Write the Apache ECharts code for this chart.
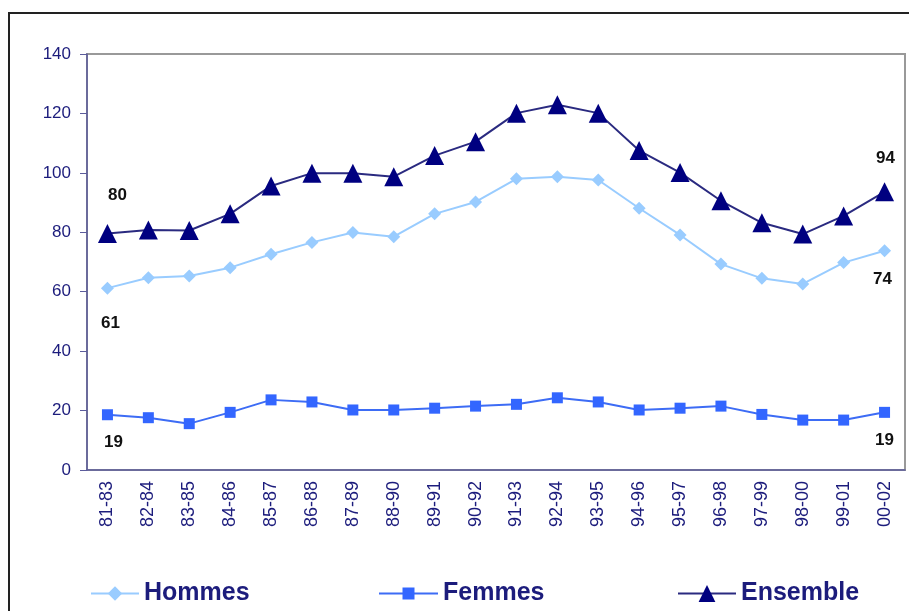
<!DOCTYPE html>
<html>
<head>
<meta charset="utf-8">
<script src="https://cdn.jsdelivr.net/npm/echarts@6/dist/echarts.min.js"></script>
<style>
  html, body { margin: 0; padding: 0; background: #fff; }
  #chart { width: 909px; height: 611px; }
</style>
</head>
<body>
<div id="chart"></div>
<script>
// Periods (3-year windows)
const periods = ['81-83', '82-84', '83-85', '84-86', '85-87', '86-88', '87-89', '88-90', '89-91', '90-92',
  '91-93', '92-94', '93-95', '94-96', '95-97', '96-98', '97-99', '98-00', '99-01', '00-02'];

// Series values
const hommes = [61.2, 64.7, 65.3, 68.1, 72.6, 76.6, 79.9, 78.5, 86.2, 90.2,
  98.0, 98.7, 97.6, 88.1, 79.1, 69.3, 64.5, 62.6, 69.8, 73.8];
const femmes = [18.6, 17.6, 15.6, 19.4, 23.6, 22.9, 20.2, 20.2, 20.8, 21.5,
  22.1, 24.3, 22.9, 20.2, 20.8, 21.5, 18.7, 16.8, 16.8, 19.4];
const ensemble = [79.6, 80.8, 80.6, 86.2, 95.6, 99.9, 99.9, 98.7, 105.8, 110.5,
  120.1, 122.9, 120.1, 107.5, 100.1, 90.6, 83.2, 79.4, 85.5, 93.6];

const yTicks = [0, 20, 40, 60, 80, 100, 120, 140];

const navy = '#1c1c7c';

// show a value label only on first and last point
const withEndLabels = (arr, pos, firstOffset, lastOffset) => arr.map((v, i) => {
  if (i === 0 || i === arr.length - 1) {
    return {
      value: v,
      label: {
        show: true,
        position: pos,
        distance: 14,
        offset: i === 0 ? firstOffset : lastOffset,
        formatter: (p) => Math.round(p.value),
        color: '#111',
        fontWeight: 'bold',
        fontSize: 17,
        fontFamily: 'Liberation Sans'
      }
    };
  }
  return v;
});

const chart = echarts.init(document.getElementById('chart'));

const legendText = {
  color: navy,
  fontSize: 25,
  fontWeight: 'bold',
  fontFamily: 'Liberation Sans'
};

const option = {
  animation: false,
  backgroundColor: '#fff',
  graphic: [{
    type: 'rect',
    shape: { x: 9, y: 13, width: 920, height: 620 },
    style: { fill: 'none', stroke: '#222', lineWidth: 2 },
    z: -1
  }],
  grid: {
    left: 87, right: 4, top: 54, bottom: 141,
    show: true, borderColor: '#999', borderWidth: 2, backgroundColor: 'transparent'
  },
  legend: [
    {
      data: ['Hommes'], left: 90, top: 581, padding: 0, itemWidth: 48, itemHeight: 18,
      textStyle: legendText
    },
    {
      data: ['Femmes'], left: 378, top: 581, padding: 0, itemWidth: 59, itemHeight: 15,
      textStyle: legendText
    },
    {
      data: ['Ensemble'], left: 677, top: 581, padding: 0, itemWidth: 58, itemHeight: 21,
      textStyle: legendText
    }
  ],
  xAxis: {
    type: 'category',
    data: periods,
    boundaryGap: true,
    axisLine: { lineStyle: { color: '#5c5c9c', width: 1.5 } },
    axisTick: { length: 6, lineStyle: { color: '#5c5c9c' } },
    axisLabel: {
      rotate: 90,
      interval: 0,
      margin: 11,
      color: navy,
      fontSize: 18,
      fontFamily: 'Liberation Sans'
    }
  },
  yAxis: {
    type: 'value',
    min: yTicks[0],
    max: yTicks[yTicks.length - 1],
    interval: 20,
    splitLine: { show: false },
    axisLine: { show: true, lineStyle: { color: '#5c5c9c', width: 1.5 } },
    axisTick: { show: true, length: 7, lineStyle: { color: '#5c5c9c' } },
    axisLabel: {
      margin: 16,
      color: navy,
      fontSize: 17,
      fontFamily: 'Liberation Sans'
    }
  },
  series: [
    {
      name: 'Hommes',
      type: 'line',
      data: withEndLabels(hommes, 'bottom', [3, 6], [-2, 0]),
      symbol: 'diamond',
      symbolSize: 13,
      showAllSymbol: true,
      lineStyle: { color: '#99ccff', width: 2 },
      itemStyle: { color: '#99ccff' }
    },
    {
      name: 'Femmes',
      type: 'line',
      data: withEndLabels(femmes, 'bottom', [6, 0], [0, 0]),
      symbol: 'rect',
      symbolSize: 11,
      showAllSymbol: true,
      lineStyle: { color: '#3d6cf5', width: 2 },
      itemStyle: { color: '#3366ff' }
    },
    {
      name: 'Ensemble',
      type: 'line',
      data: withEndLabels(ensemble, 'top', [10, -6], [1, -2]),
      symbol: 'triangle',
      symbolSize: 19,
      showAllSymbol: true,
      lineStyle: { color: '#2a2a80', width: 2 },
      itemStyle: { color: '#000080' }
    }
  ]
};

chart.setOption(option);
</script>
</body>
</html>
